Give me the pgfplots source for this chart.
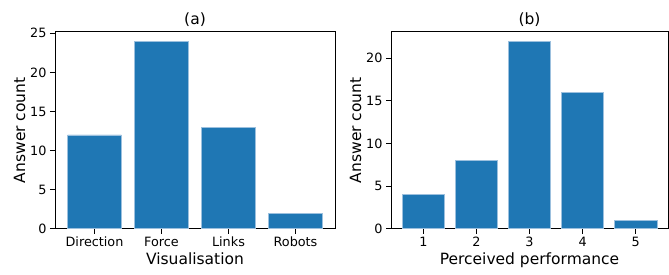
\documentclass[border=0pt]{standalone}
\usepackage{fontspec}
\setmainfont{DejaVu Sans}
\usepackage{pgfplots}
\pgfplotsset{compat=1.18}
\definecolor{mblue}{HTML}{1F77B4}
\definecolor{medge}{HTML}{9CC0DE}
\begin{document}
\begin{tikzpicture}
\useasboundingbox (-55pt,-45.3pt) rectangle (614pt,228.7pt);
\pgfplotsset{
  mystyle/.style={
    scale only axis,
    height=197pt,
    ymin=0,
    axis line style={line width=0.8pt},
    tick style={black, line width=0.8pt},
    tick align=outside,
    major tick length=5pt,
    xtick pos=bottom, ytick pos=left,
    ticklabel style={font=\fontsize{12.8}{14}\selectfont},
    label style={font=\fontsize{15.5}{17}\selectfont},
    title style={font=\fontsize{15.5}{17}\selectfont, yshift=-4pt},
    /pgf/number format/assume math mode=true,
    ylabel style={yshift=-2pt},
    xlabel style={yshift=1pt},
  }
}
\begin{axis}[mystyle,
  at={(0pt,0pt)}, anchor=south west,
  width=280pt,
  xmin=-0.59, xmax=3.59,
  ymax=25.2,
  xtick={0,1,2,3},
  xticklabels={Direction,Force,Links,Robots},
  ytick={0,5,10,15,20,25},
  xlabel={Visualisation},
  ylabel={Answer count},
  title={(a)},
]
\addplot[ybar, bar width=0.8, fill=mblue, draw=medge, line width=0.6pt, bar shift=0pt]
  coordinates {(0,12) (1,24) (2,13) (3,2)};
\end{axis}
\begin{axis}[mystyle,
  at={(336pt,0pt)}, anchor=south west,
  width=277pt,
  xmin=0.39, xmax=5.61,
  ymax=23.1,
  xtick={1,2,3,4,5},
  ytick={0,5,10,15,20},
  xlabel={Perceived performance},
  ylabel={Answer count},
  title={(b)},
]
\addplot[ybar, bar width=0.8, fill=mblue, draw=medge, line width=0.6pt, bar shift=0pt]
  coordinates {(1,4) (2,8) (3,22) (4,16) (5,1)};
\end{axis}
\end{tikzpicture}
\end{document}
